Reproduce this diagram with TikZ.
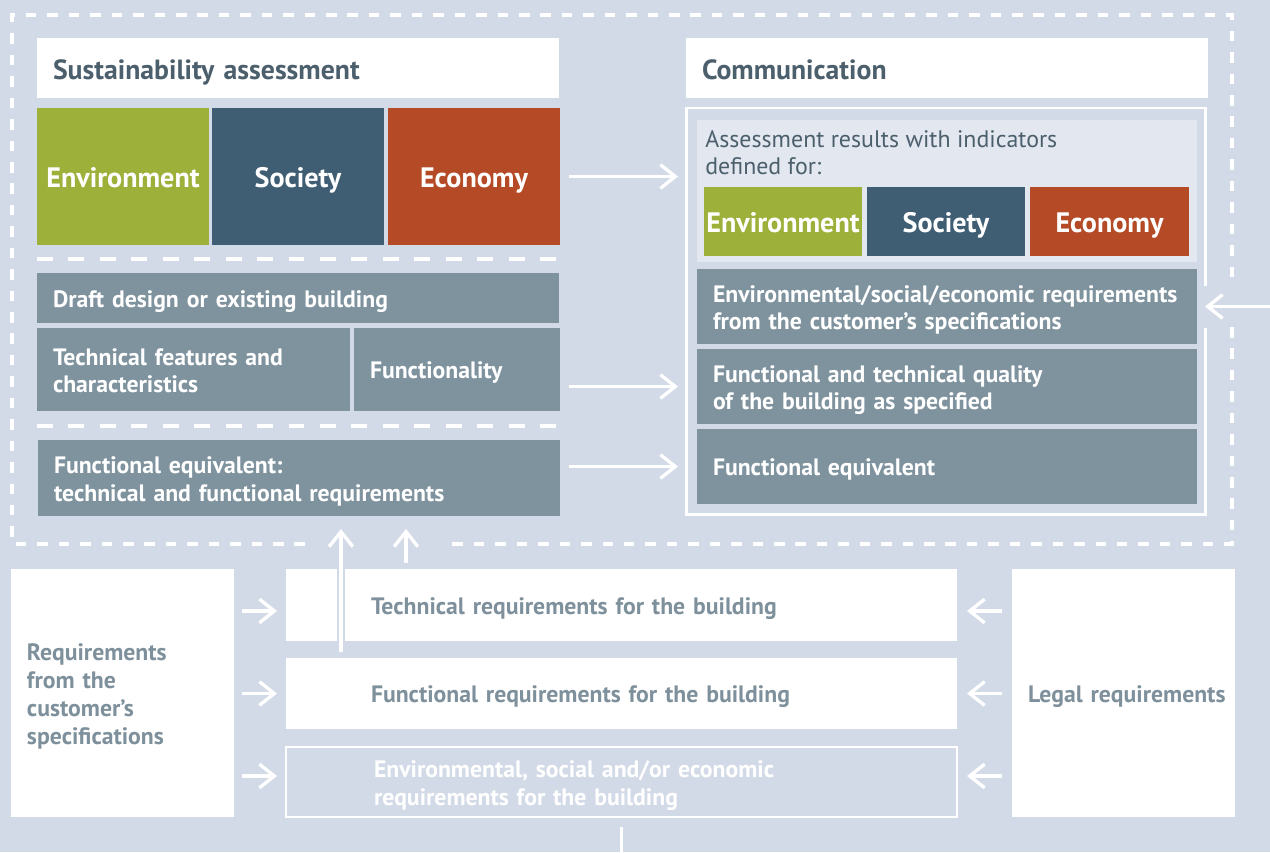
\documentclass[tikz,border=0pt]{standalone}
\usepackage{fontspec}
\setmainfont{PT Sans}
\usepackage{xcolor}
\definecolor{colorBack}{HTML}{D3DAE7}
\definecolor{colorPanel}{HTML}{E3E7F0}
\definecolor{colorBox}{HTML}{7F939F}
\definecolor{colorEnv}{HTML}{9CB03A}
\definecolor{colorSoc}{HTML}{3F5E74}
\definecolor{colorEco}{HTML}{B54A27}
\definecolor{colorTitle}{HTML}{4B5F6C}
\definecolor{colorReq}{HTML}{7D909B}
\usepackage{tikz}
\usetikzlibrary{arrows.meta, positioning, calc}
\newcommand{\pxu}{0.02cm}
\tikzset{
  blk/.style={anchor=north west, inner ysep=0pt, outer sep=0pt, align=left, text=white, font=\bfseries\fontsize{13.5}{15.9}\selectfont, execute at begin node={\rule{0pt}{1.05em}}, execute at end node={\rule[-0.25em]{0pt}{0pt}}},
  sz/.style n args={3}{text width=(#1-2*#3)*\pxu, inner xsep=#3*\pxu, minimum height=#2*\pxu},
  cell/.style 2 args={anchor=north west, inner sep=0pt, outer sep=0pt, text=white, minimum width=#1*\pxu, minimum height=#2*\pxu, text height=12.4pt, text depth=0pt, font=\bfseries\fontsize{16}{18}\selectfont},
  title/.style={blk, fill=white, text=colorTitle, font=\bfseries\fontsize{15.8}{18}\selectfont},
  req/.style={blk, fill=white, text=colorReq},
  arr/.style={->, white, line width=1.9pt},
  sep/.style={white, line width=2pt, dash pattern=on 9pt off 8.9pt},
  outer/.style={white, line width=2pt, dash pattern=on 6pt off 6.2pt},
}

\begin{document}
\begin{tikzpicture}[x=0.02cm, y=-0.02cm, >={Straight Barb[length=8.5pt, width=13.5pt]}]
\fill[colorBack] (0,0) rectangle (1270,852);
\useasboundingbox (0,0) rectangle (1270,852);

\node[title, sz={522}{60}{16}] (sa) at (37,38) {Sustainability assessment};
\node[cell={172}{137}, fill=colorEnv] (env1) at (37,108) {Environment};
\node[cell={172}{137}, fill=colorSoc] (soc1) at (212,108) {Society};
\node[cell={172}{137}, fill=colorEco] (eco1) at (388,108) {Economy};
\node[blk, sz={522}{50}{16}, fill=colorBox] (draft) at (37,273) {Draft design or existing building};
\node[blk, sz={313}{83}{16}, fill=colorBox] (tech) at (37,328) {Technical features and\\characteristics};
\node[blk, sz={206}{83}{16}, fill=colorBox] (func) at (354,328) {Functionality};
\node[blk, sz={522}{76}{16}, fill=colorBox] (feq) at (38,440) {Functional equivalent:\\technical and functional requirements};

\node[title, sz={522}{60}{16}] (com) at (686,38) {Communication};
\node[anchor=north west, inner sep=0pt, outer sep=0pt, minimum width=519*\pxu, minimum height=406*\pxu] (frame) at (686,108) {};
\node[anchor=north west, inner sep=0pt, outer sep=0pt, fill=colorPanel, minimum width=500*\pxu, minimum height=142*\pxu] (panel) at (697,120) {};
\node[anchor=north west, inner sep=0pt, align=left, text=colorTitle, font=\fontsize{13.6}{15.3}\selectfont, below right=0.2cm and 0.16cm of panel.north west] (assess) {Assessment results with indicators\\defined for:};
\node[cell={158}{69}, fill=colorEnv] (env2) at (704,187) {Environment};
\node[cell={158}{69}, fill=colorSoc] (soc2) at (867,187) {Society};
\node[cell={159}{69}, fill=colorEco] (eco2) at (1030,187) {Economy};
\node[blk, sz={500}{75}{16}, fill=colorBox] (rq1) at (697,269) {Environmental/social/economic requirements\\from the customer’s specifications};
\node[blk, sz={500}{75}{16}, fill=colorBox] (rq2) at (697,349) {Functional and technical quality\\of the building as specified};
\node[blk, sz={500}{75}{16}, fill=colorBox] (rq3) at (697,429) {Functional equivalent};

\node[req, sz={223}{248}{16}] (cust) at (11,569) {Requirements\\from the\\customer’s\\specifications};
\node[req, sz={671}{72}{85}] (treq) at (286,569) {Technical requirements for the building};
\node[req, sz={671}{71}{85}] (freq) at (286,658) {Functional requirements for the building};
\node[blk, sz={671}{70}{88}, draw=white, line width=1.2pt] (ereq) at (286,747) {Environmental, social and/or economic\\requirements for the building};
\node[req, sz={223}{248}{16}] (legal) at (1012,569) {\mbox{Legal requirements}};
\coordinate (edge) at (1270,0);
\coordinate (bottom) at (0,852);

\draw[sep] ([yshift=-0.28cm]env1.south west) -- ([yshift=-0.28cm]eco1.south east);
\draw[sep] ([yshift=-0.3cm]tech.south west) -- ([yshift=-0.3cm]func.south east);
\draw[outer] (305,544) -| (12,15) -| (1232,284);
\draw[outer] (1232,327) |- (450,544);
\draw[white, line width=1.7pt] ([yshift=-0.42cm]frame.east |- rq1) |- (frame.south west) |- (frame.north east) -- ([yshift=0.42cm]frame.east |- rq1);

\draw[arr] ([xshift=0.18cm]eco1.east) -- ([xshift=-0.16cm]eco1.east -| frame.west);
\draw[arr] ([xshift=0.18cm]func.east |- rq2) -- ([xshift=-0.16cm]rq2 -| frame.west);
\draw[arr] ([xshift=0.18cm]feq.east |- rq3) -- ([xshift=-0.16cm]rq3 -| frame.west);
\draw[arr] (rq1 -| edge) -- (rq1 -| frame.east);

\draw[arr] ([xshift=0.16cm, yshift=-0.12cm]cust.east |- treq) -- ([xshift=-0.18cm, yshift=-0.12cm]treq.west);
\draw[arr] ([xshift=0.16cm]cust.east |- freq) -- ([xshift=-0.18cm]freq.west);
\draw[arr] ([xshift=0.16cm, yshift=0.12cm]cust.east |- ereq) -- ([xshift=-0.18cm, yshift=0.12cm]ereq.west);
\draw[arr] ([xshift=-0.2cm, yshift=-0.12cm]legal.west |- treq) -- ([xshift=0.2cm, yshift=-0.12cm]treq.east);
\draw[arr] ([xshift=-0.2cm]legal.west |- freq) -- ([xshift=0.2cm]freq.east);
\draw[arr] ([xshift=-0.2cm, yshift=0.12cm]legal.west |- ereq) -- ([xshift=0.2cm, yshift=0.12cm]ereq.east);

\draw[arr, preaction={draw=colorBack, line width=4pt}] ([xshift=1.1cm, yshift=0.12cm]freq.north west) -- ([xshift=1.1cm, yshift=-0.26cm]freq.north west |- feq.south);
\draw[arr] ([xshift=2.4cm, yshift=0.12cm]treq.north west) -- ([xshift=2.4cm, yshift=-0.26cm]treq.north west |- feq.south);
\draw[white, line width=1.7pt] ([yshift=-0.2cm]ereq.south) -- (ereq.south |- bottom);
\end{tikzpicture}
\end{document}
